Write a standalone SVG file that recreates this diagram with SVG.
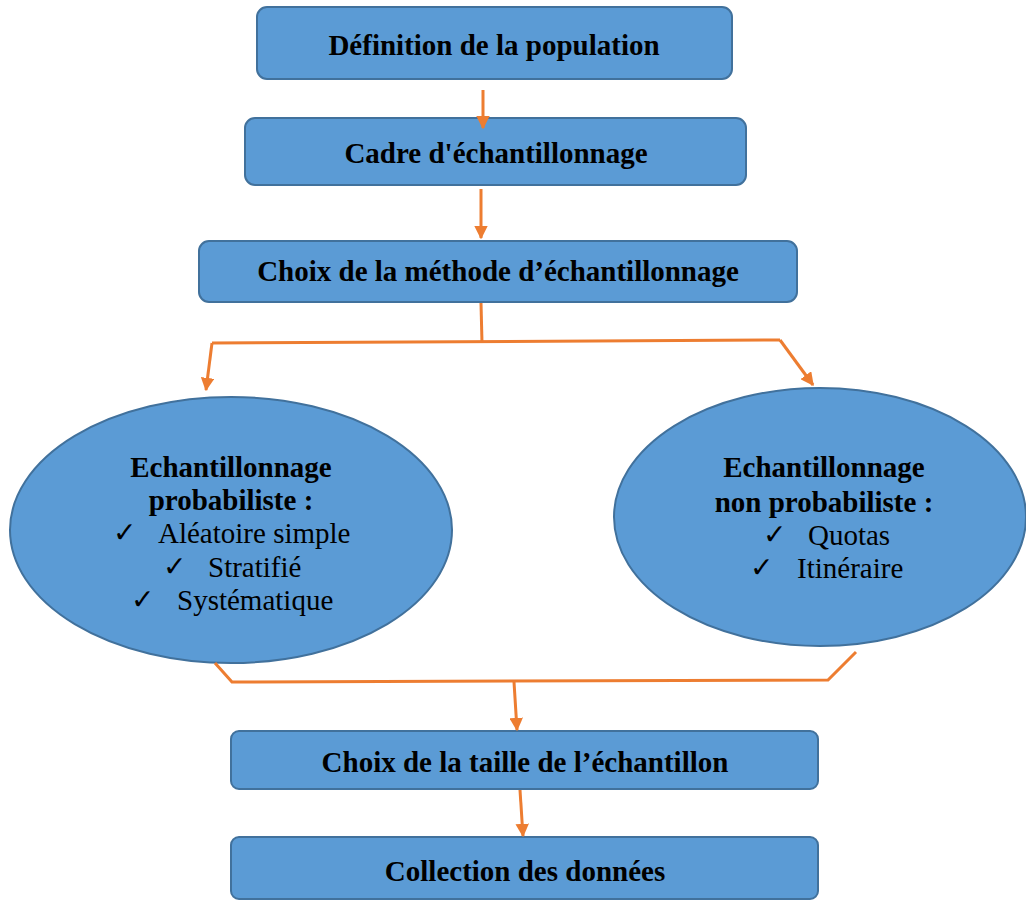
<svg xmlns="http://www.w3.org/2000/svg" width="1026" height="900" viewBox="0 0 1026 900">
<style>
.box{fill:#5B9BD5;stroke:#41719C;stroke-width:2}
.t{font-family:"Liberation Serif","Times New Roman",serif;font-size:29px;fill:#000}
.b{font-weight:bold}
.ck{font-family:"DejaVu Sans",sans-serif;font-size:28px;fill:#000}
.c{fill:none;stroke:#ED7D31;stroke-width:3}
</style>
<defs>
<marker id="ah" viewBox="0 0 10 10" refX="9" refY="5" markerWidth="4.5" markerHeight="4.5" markerUnits="strokeWidth" orient="auto">
<path d="M0,0 L10,5 L0,10 z" fill="#ED7D31"/>
</marker>
</defs>
<rect width="1026" height="900" fill="#fff"/>
<g id="n1"><rect class="box" x="257" y="7" width="475" height="72" rx="10"/><text class="t b" x="494" y="55" text-anchor="middle">Définition de la population</text></g>
<g id="n2"><rect class="box" x="245" y="118" width="501" height="67" rx="10"/><text class="t b" x="496" y="163" text-anchor="middle">Cadre d'échantillonnage</text></g>
<g id="n3"><rect class="box" x="199" y="241" width="598" height="61" rx="10"/><text class="t b" x="498" y="281" text-anchor="middle">Choix de la méthode d’échantillonnage</text></g>
<g id="n4"><ellipse class="box" cx="231" cy="530" rx="221" ry="133"/>
<text class="t b" x="231" y="477" text-anchor="middle">Echantillonnage</text>
<text class="t b" x="231" y="510" text-anchor="middle">probabiliste :</text>
<text class="ck" x="113" y="542">✓</text><text class="t" x="158" y="543">Aléatoire simple</text>
<text class="ck" x="163" y="576">✓</text><text class="t" x="208" y="577">Stratifié</text>
<text class="ck" x="131" y="609">✓</text><text class="t" x="177" y="610">Systématique</text>
</g>
<g id="n5"><ellipse class="box" cx="820" cy="517" rx="206" ry="129"/>
<text class="t b" x="824" y="477" text-anchor="middle">Echantillonnage</text>
<text class="t b" x="824" y="512" text-anchor="middle">non probabiliste :</text>
<text class="ck" x="763" y="544">✓</text><text class="t" x="808" y="545">Quotas</text>
<text class="ck" x="750" y="577">✓</text><text class="t" x="797" y="578">Itinéraire</text>
</g>
<g id="n6"><rect class="box" x="231" y="731" width="587" height="58" rx="8"/><text class="t b" x="525" y="772" text-anchor="middle">Choix de la taille de l’échantillon</text></g>
<g id="n7"><rect class="box" x="231" y="837" width="587" height="62" rx="8"/><text class="t b" x="525" y="881" text-anchor="middle">Collection des données</text></g>
<g id="connectors">
<path class="c" d="M483,90 L483,128" marker-end="url(#ah)"/>
<path class="c" d="M481,189 L481,238" marker-end="url(#ah)"/>
<path class="c" d="M481,303 L482,343"/>
<path class="c" d="M212,343 L780,340"/>
<path class="c" d="M212,343 L206,390" marker-end="url(#ah)"/>
<path class="c" d="M780,340 L813,385" marker-end="url(#ah)"/>
<path class="c" d="M215,663 L232,682 L828,680 L856,652"/>
<path class="c" d="M514,682 L517,730" marker-end="url(#ah)"/>
<path class="c" d="M520,790 L523,836" marker-end="url(#ah)"/>
</g>
</svg>
